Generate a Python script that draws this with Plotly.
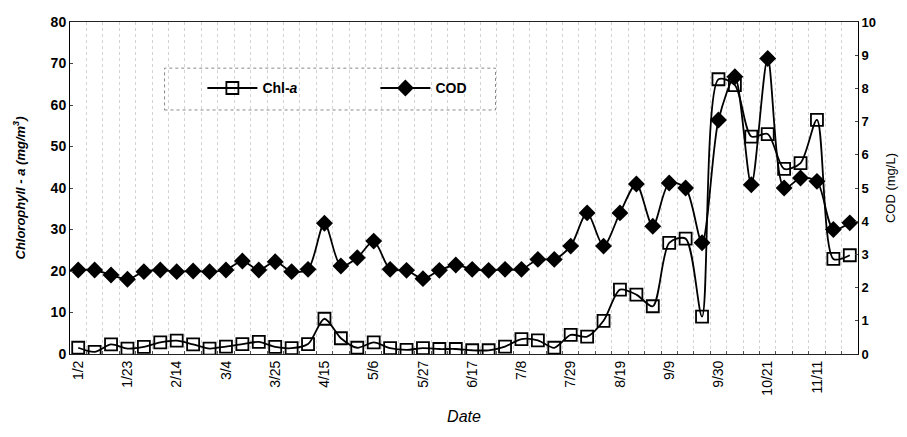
import plotly.graph_objects as go

dates = ["1/2", "1/9", "1/16", "1/23", "1/30", "2/6", "2/14", "2/20", "2/26", "3/4",
         "3/11", "3/18", "3/25", "4/1", "4/8", "4/15", "4/22", "4/29", "5/6", "5/13",
         "5/20", "5/27", "6/3", "6/10", "6/17", "6/24", "7/1", "7/8", "7/15", "7/22",
         "7/29", "8/5", "8/12", "8/19", "8/26", "9/2", "9/9", "9/16", "9/23", "9/30",
         "10/7", "10/14", "10/21", "10/28", "11/4", "11/11", "11/18", "11/25"]

tick_labels = ["1/2", "1/23", "2/14", "3/4", "3/25", "4/15", "5/6", "5/27", "6/17",
               "7/8", "7/29", "8/19", "9/9", "9/30", "10/21", "11/11"]

chl_a = [1.5, 0.5, 2.3, 1.3, 1.7, 2.8, 3.2, 2.3, 1.3, 1.8,
         2.4, 2.9, 1.7, 1.4, 2.4, 8.5, 3.8, 1.5, 2.8, 1.4,
         1.0, 1.4, 1.2, 1.2, 0.9, 0.9, 1.8, 3.6, 3.3, 1.5,
         4.6, 4.2, 8.0, 15.5, 14.3, 11.5, 26.8, 27.8, 9.0, 66.2,
         64.8, 52.4, 53.0, 44.6, 46.0, 56.4, 22.9, 23.8]

cod = [2.53, 2.53, 2.38, 2.25, 2.48, 2.53, 2.48, 2.50, 2.48, 2.53,
       2.80, 2.53, 2.78, 2.48, 2.55, 3.94, 2.65, 2.90, 3.40, 2.55,
       2.52, 2.27, 2.52, 2.68, 2.55, 2.52, 2.55, 2.55, 2.85, 2.85,
       3.25, 4.25, 3.25, 4.25, 5.12, 3.85, 5.15, 5.00, 3.35, 7.05,
       8.35, 5.10, 8.90, 5.00, 5.30, 5.20, 3.75, 3.95]

idx = list(range(len(dates)))
tick_idx = [dates.index(t) for t in tick_labels]

FONT = "Liberation Sans, Arial, sans-serif"

fig = go.Figure()
fig.add_trace(go.Scatter(
    x=idx, y=chl_a, name="<b>Chl-<i>a</i></b>", mode="lines+markers",
    line=dict(color="black", width=1.8, shape="spline", smoothing=0.8),
    marker=dict(symbol="square-open", size=12, color="black", line=dict(width=1.8)),
    yaxis="y"))
fig.add_trace(go.Scatter(
    x=idx, y=cod, name="<b>COD</b>", mode="lines+markers",
    line=dict(color="black", width=1.8, shape="spline", smoothing=0.8),
    marker=dict(symbol="diamond", size=13, color="black"),
    yaxis="y2"))

fig.update_layout(
    width=907, height=437,
    margin=dict(l=70, r=37, t=22, b=83),
    paper_bgcolor="white", plot_bgcolor="white",
    font=dict(family=FONT, color="black", size=13),
    showlegend=True,
    legend=dict(orientation="h", x=0.168, y=0.80, xanchor="left", yanchor="middle",
                bgcolor="rgba(0,0,0,0)", borderwidth=0, entrywidth=108,
                itemwidth=50, font=dict(size=14, family=FONT)),
    xaxis=dict(
        range=[-0.5, len(dates) - 0.5],
        tickmode="array", tickvals=tick_idx, ticktext=tick_labels,
        tickangle=-90, tickfont=dict(size=14),
        showgrid=False, zeroline=False,
        showline=True, linecolor="#222", linewidth=1, mirror=True,
        ticks="",
        minor=dict(tickvals=[i + 0.5 for i in idx[:-1]], showgrid=True,
                   gridcolor="#d2d2d2", griddash="dot", gridwidth=1,
                   ticks="inside", ticklen=3, tickcolor="#555"),
        title=dict(text="<i>Date</i>", font=dict(size=16), standoff=16),
    ),
    yaxis=dict(
        range=[0, 80], dtick=10, showgrid=False, zeroline=False,
        showline=True, linecolor="black", linewidth=1,
        ticks="inside", ticklen=3,
        tickfont=dict(size=14), tickprefix="<b>", ticksuffix="</b>",
        title=dict(text="<b><i>Chlorophyll - a (mg/m<sup>3</sup>)</i></b>",
                   font=dict(size=13), standoff=22),
    ),
    yaxis2=dict(
        range=[0, 10], dtick=1, overlaying="y", side="right",
        showgrid=False, zeroline=False,
        showline=True, linecolor="black", linewidth=1,
        ticks="inside", ticklen=3,
        tickfont=dict(size=13), tickprefix="<b>", ticksuffix="</b>",
        title=dict(text="COD (mg/L)", font=dict(size=13), standoff=10),
    ),
    shapes=[dict(type="rect", xref="paper", yref="paper",
                 x0=0.12, x1=0.54, y0=0.735, y1=0.861,
                 line=dict(color="#888", width=1, dash="dot"),
                 fillcolor="rgba(0,0,0,0)", layer="below")],
)

fig.write_html("out.html")
